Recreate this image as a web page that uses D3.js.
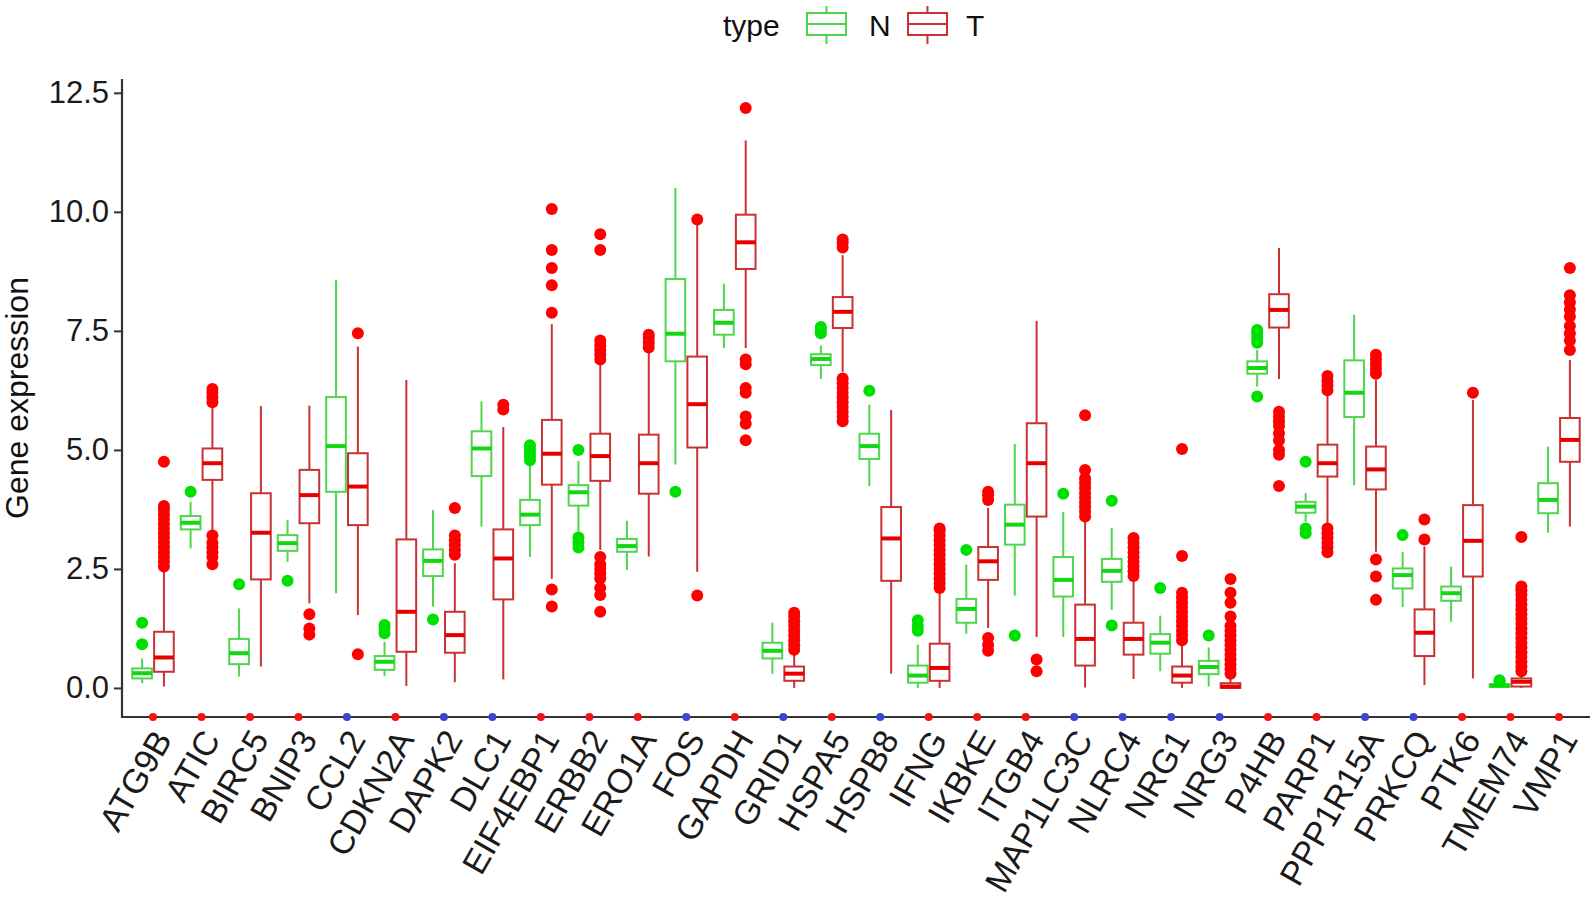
<!DOCTYPE html>
<html>
<head>
<meta charset="utf-8">
<script src="https://cdn.jsdelivr.net/npm/d3@7"></script>
<style>
  html, body { margin: 0; padding: 0; background: #fff; }
  svg { display: block; font-family: "Liberation Sans", Arial, sans-serif; }
</style>
</head>
<body>
<svg id="chart" width="1595" height="900"></svg>
<script>
// ---------------- DATA ----------------
const genes = ["ATG9B","ATIC","BIRC5","BNIP3","CCL2","CDKN2A","DAPK2","DLC1","EIF4EBP1","ERBB2","ERO1A","FOS","GAPDH","GRID1","HSPA5","HSPB8","IFNG","IKBKE","ITGB4","MAP1LC3C","NLRC4","NRG1","NRG3","P4HB","PARP1","PPP1R15A","PRKCQ","PTK6","TMEM74","VMP1"];

// marker group shown as a coloured dot on the x axis
const markerGroup = ["up","up","up","up","down","up","down","down","up","up","up","down","up","down","up","down","up","up","up","down","down","down","down","up","up","down","down","up","up","up"];

const types = ["N", "T"];
const yTicks = [0, 2.5, 5, 7.5, 10, 12.5];

// box statistics: [lower whisker, Q1, median, Q3, upper whisker]
const nBox = [
  [0.10,0.20,0.31,0.41,0.62],[2.93,3.33,3.47,3.61,3.91],[0.24,0.50,0.73,1.03,1.67],[2.65,2.88,3.04,3.21,3.53],
  [1.99,4.12,5.08,6.11,8.57],[0.25,0.38,0.55,0.67,0.97],[1.71,2.35,2.67,2.91,3.74],[3.39,4.45,5.03,5.39,6.02],
  [2.75,3.42,3.64,3.95,4.72],[3.28,3.83,4.11,4.26,4.77],[2.48,2.86,2.98,3.13,3.51],[4.69,6.86,7.44,8.59,10.50],
  [7.14,7.42,7.67,7.94,8.49],[0.30,0.62,0.78,0.95,1.37],[6.49,6.78,6.91,7.01,7.19],[4.24,4.81,5.08,5.34,5.95],
  [0.00,0.11,0.26,0.47,0.91],[1.14,1.37,1.66,1.87,2.59],[1.94,3.01,3.43,3.85,5.12],[1.07,1.92,2.27,2.75,3.70],
  [1.64,2.23,2.46,2.71,3.36],[0.35,0.72,0.95,1.13,1.52],[0.03,0.29,0.44,0.57,0.85],[6.33,6.60,6.72,6.86,7.10],
  [3.49,3.68,3.81,3.91,4.09],[4.26,5.69,6.20,6.88,7.84],[1.70,2.09,2.37,2.51,2.86],[1.39,1.83,1.99,2.13,2.55],
  [0.00,0.02,0.05,0.08,0.12],[3.26,3.67,3.95,4.30,5.07]
];
const nOut = [
  [0.92,1.37],[4.12],[2.18],[2.25],
  [],[1.15,1.25,1.32],[1.44],[],
  [4.78,4.86,4.95,5.03,5.10],[5.00,3.16,3.05,2.95],[],[4.12],
  [],[],[7.45,7.52,7.58],[6.24],
  [1.20,1.30,1.42],[2.90],[1.10],[4.08],
  [3.93,1.31],[2.10],[1.10],[7.25,7.35,7.45,7.52,6.12],
  [4.75,3.35,3.25],[],[3.21],[],
  [0.14,0.16],[]
];
const tBox = [
  [0.03,0.34,0.64,1.18,2.48],[3.28,4.37,4.72,5.03,5.95],[0.45,2.28,3.26,4.09,5.92],[1.78,3.46,4.05,4.58,5.93],
  [1.53,3.42,4.23,4.93,7.17],[0.04,0.76,1.60,3.12,6.47],[0.12,0.74,1.11,1.60,2.62],[0.18,1.86,2.72,3.33,5.48],
  [2.29,4.27,4.92,5.63,7.64],[2.90,4.35,4.87,5.34,6.80],[2.76,4.08,4.72,5.32,7.14],[2.44,5.05,5.96,6.96,9.81],
  [7.14,8.80,9.36,9.94,11.50],[0.00,0.15,0.30,0.45,0.72],[6.64,7.56,7.90,8.21,9.09],[0.30,2.25,3.14,3.80,5.84],
  [0.00,0.15,0.42,0.93,2.02],[1.26,2.27,2.66,2.96,3.78],[1.07,3.60,4.72,5.56,7.71],[0.01,0.47,1.03,1.75,3.55],
  [0.19,0.70,1.03,1.37,2.29],[0.00,0.11,0.26,0.45,0.91],[0.00,0.00,0.03,0.10,0.25],[6.49,7.57,7.94,8.27,9.24],
  [3.42,4.44,4.72,5.11,6.19],[2.86,4.17,4.59,5.07,6.47],[0.06,0.67,1.16,1.65,2.97],[0.20,2.34,3.09,3.84,6.05],
  [0.00,0.03,0.13,0.20,0.31],[3.39,4.75,5.21,5.67,6.89]
];
const tOut = [
  [2.55,2.65,2.75,2.85,2.95,3.05,3.15,3.25,3.35,3.45,3.55,3.65,3.75,3.82,4.75],
  [6.00,6.10,6.20,6.28,3.20,3.05,2.95,2.85,2.75,2.60],
  [],
  [1.55,1.25,1.12],
  [7.45,0.71],
  [],
  [3.78,3.20,3.10,3.00,2.90,2.80],
  [5.95,5.85],
  [10.06,9.20,8.82,8.46,7.88,2.07,1.71],
  [9.53,9.20,7.30,7.20,7.10,7.00,6.90,2.75,2.60,2.50,2.40,2.30,2.10,1.95,1.60],
  [7.15,7.25,7.35,7.42],
  [9.84,1.94],
  [12.18,6.90,6.80,6.30,6.20,5.70,5.55,5.20],
  [0.80,0.90,1.00,1.10,1.20,1.30,1.40,1.50,1.58],
  [9.25,9.35,9.42,6.50,6.40,6.30,6.20,6.10,6.00,5.90,5.80,5.70,5.60],
  [],
  [2.10,2.20,2.30,2.40,2.50,2.60,2.70,2.80,2.90,3.00,3.10,3.20,3.30,3.35],
  [3.95,4.05,4.12,1.05,0.90,0.78],
  [0.60,0.35],
  [5.73,4.58,4.40,4.30,4.20,4.10,4.00,3.90,3.80,3.70,3.60],
  [3.15,3.05,2.95,2.85,2.75,2.65,2.55,2.45,2.35],
  [5.02,2.77,2.00,1.90,1.80,1.70,1.60,1.50,1.40,1.30,1.20,1.10,1.00],
  [2.29,2.00,1.79,1.50,1.30,1.20,1.10,1.00,0.90,0.80,0.70,0.60,0.50,0.40,0.30],
  [5.80,5.70,5.60,5.50,5.35,5.20,5.00,4.90,4.24],
  [6.25,6.35,6.45,6.55,3.35,3.25,3.15,3.05,2.95,2.85],
  [6.60,6.70,6.80,6.90,7.00,2.70,2.34,1.85],
  [3.54,3.12],
  [6.20],
  [0.35,0.45,0.55,0.65,0.75,0.85,0.95,1.05,1.15,1.25,1.35,1.45,1.55,1.65,1.75,1.85,1.95,2.05,2.13,3.17],
  [8.82,8.25,8.10,7.95,7.80,7.60,7.45,7.30,7.10]
];

// ---------------- STYLE ----------------
const style = {
  N: { stroke: "#4ed64e", median: "#12d812", point: "#00e000" },
  T: { stroke: "#c83232", median: "#e80000", point: "#ff0000" }
};
const markerColor = { up: "#f01414", down: "#3a46d2" };

// ---------------- LAYOUT ----------------
const svg = d3.select("#chart");
svg.append("rect").attr("width", 1595).attr("height", 900).attr("fill", "#fff");

const plot = { left: 122, right: 1590, top: 79, bottom: 717 };

const x = d3.scalePoint().domain(genes).range([plot.left, plot.right]).padding(0.64);
const step = x.step();
const y = d3.scaleLinear().domain([-0.61, 12.79]).range([plot.bottom, plot.top]);

const dodge = d3.scaleBand().domain(types).range([-0.45 * step, 0.45 * step]).paddingInner(0.1).paddingOuter(0.05);
const bw = dodge.bandwidth();

// ---------------- BOXES ----------------
const series = [
  { type: "N", box: nBox, out: nOut },
  { type: "T", box: tBox, out: tOut }
];

series.forEach(s => {
  const st = style[s.type];
  const g = svg.append("g").attr("class", "series-" + s.type);
  genes.forEach((gene, i) => {
    const [lo, q1, med, q3, hi] = s.box[i];
    const x0 = x(gene) + dodge(s.type);
    const cx = x0 + bw / 2;
    const gg = g.append("g");
    gg.append("line").attr("x1", cx).attr("x2", cx).attr("y1", y(q3)).attr("y2", y(hi))
      .attr("stroke", st.stroke).attr("stroke-width", 2);
    gg.append("line").attr("x1", cx).attr("x2", cx).attr("y1", y(q1)).attr("y2", y(lo))
      .attr("stroke", st.stroke).attr("stroke-width", 2);
    gg.append("rect").attr("x", x0).attr("y", y(q3)).attr("width", bw)
      .attr("height", Math.max(0.5, y(q1) - y(q3)))
      .attr("fill", "#fff").attr("stroke", st.stroke).attr("stroke-width", 2);
    gg.append("line").attr("x1", x0).attr("x2", x0 + bw).attr("y1", y(med)).attr("y2", y(med))
      .attr("stroke", st.median).attr("stroke-width", 4);
    gg.selectAll("circle").data(s.out[i]).join("circle")
      .attr("cx", cx).attr("cy", d => y(d)).attr("r", 6)
      .attr("fill", st.point);
  });
});

// ---------------- AXES ----------------
const yAxis = d3.axisLeft(y).tickValues(yTicks).tickFormat(d3.format(".1f")).tickSize(8).tickPadding(5);
const gy = svg.append("g").attr("transform", `translate(${plot.left},0)`).call(yAxis);
gy.select(".domain").remove();
gy.selectAll(".tick line").attr("stroke", "#333").attr("stroke-width", 2);
gy.selectAll(".tick text").attr("font-size", 31).attr("fill", "#1a1a1a")
  .attr("font-family", "'Liberation Sans', Arial, sans-serif");

svg.append("line").attr("x1", plot.left).attr("x2", plot.left).attr("y1", plot.top).attr("y2", plot.bottom + 1)
  .attr("stroke", "#333").attr("stroke-width", 2.2);
svg.append("line").attr("x1", plot.left - 1).attr("x2", plot.right).attr("y1", plot.bottom).attr("y2", plot.bottom)
  .attr("stroke", "#333").attr("stroke-width", 2.2);

// x labels
const xAxis = d3.axisBottom(x).tickSize(0).tickPadding(0);
const gx = svg.append("g").attr("transform", `translate(0,${plot.bottom})`).call(xAxis);
gx.select(".domain").remove();
gx.selectAll(".tick text")
  .attr("font-size", 34).attr("fill", "#1a1a1a")
  .attr("font-family", "'Liberation Sans', Arial, sans-serif")
  .attr("text-anchor", "end")
  .attr("y", 0).attr("dy", "0.72em")
  .attr("transform", "translate(-2,10) rotate(-60)");

// coloured marker dots on the x axis
svg.append("g").selectAll("circle").data(genes).join("circle")
  .attr("cx", d => x(d)).attr("cy", plot.bottom).attr("r", 4)
  .attr("fill", (d, i) => markerColor[markerGroup[i]]);

// y title
svg.append("text")
  .attr("transform", `translate(28,${(plot.top + plot.bottom) / 2}) rotate(-90)`)
  .attr("text-anchor", "middle").attr("font-size", 32).attr("fill", "#111")
  .text("Gene expression");

// ---------------- LEGEND ----------------
const leg = svg.append("g");
leg.append("text").attr("x", 723).attr("y", 36).attr("font-size", 30).attr("fill", "#111").text("type");
const legItems = [{ type: "N", x: 807, tx: 869 }, { type: "T", x: 908, tx: 966 }];
legItems.forEach(li => {
  const st = style[li.type];
  const kw = 39, cx = li.x + kw / 2;
  leg.append("line").attr("x1", cx).attr("x2", cx).attr("y1", 6).attr("y2", 44)
    .attr("stroke", st.stroke).attr("stroke-width", 2);
  leg.append("rect").attr("x", li.x).attr("y", 13).attr("width", kw).attr("height", 22)
    .attr("fill", "#fff").attr("stroke", st.stroke).attr("stroke-width", 2);
  leg.append("line").attr("x1", li.x).attr("x2", li.x + kw).attr("y1", 24).attr("y2", 24)
    .attr("stroke", st.stroke).attr("stroke-width", 2);
  leg.append("text").attr("x", li.tx).attr("y", 36).attr("font-size", 30).attr("fill", "#111").text(li.type);
});
</script>
</body>
</html>
